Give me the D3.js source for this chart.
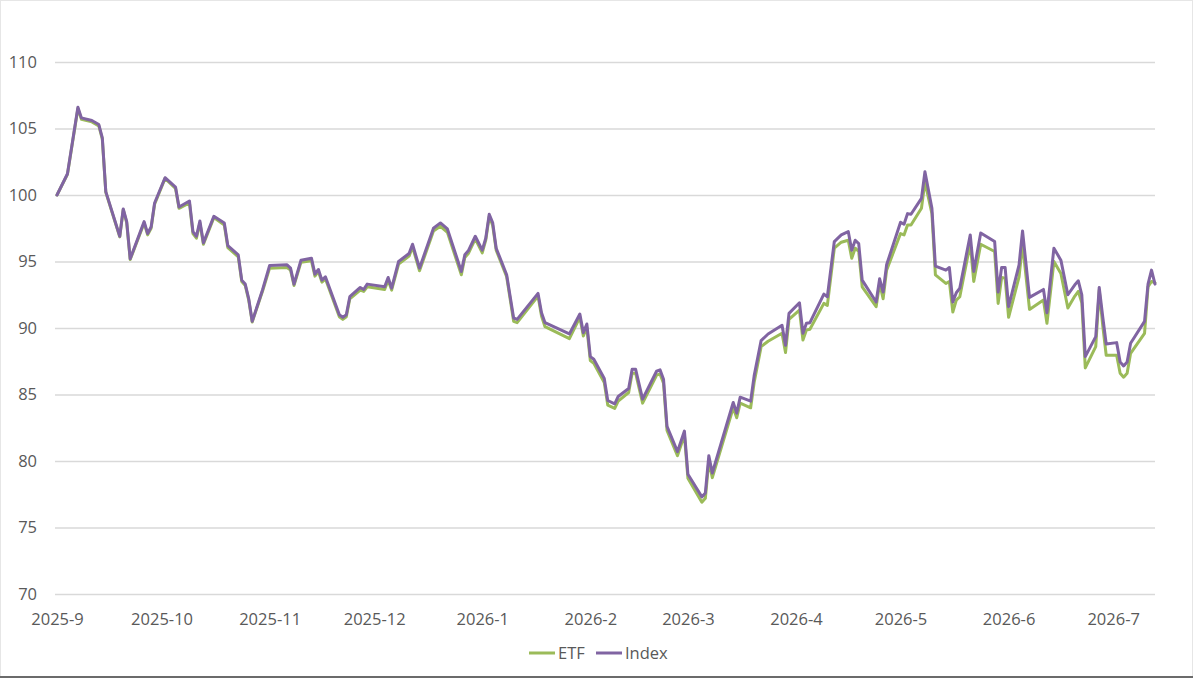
<!DOCTYPE html>
<html><head><meta charset="utf-8">
<script src="https://cdn.jsdelivr.net/npm/d3@7"></script>
<style>
html,body{margin:0;padding:0;background:#fff;}
svg{display:block;}
text{font-family:"Open Sans","Liberation Sans",sans-serif;fill:#595959;}
</style></head>
<body>
<svg id="c" width="1193" height="678"></svg>
<script>
const dates = ["2025-09-01","2025-09-04","2025-09-07","2025-09-08","2025-09-11","2025-09-13","2025-09-14","2025-09-15","2025-09-19","2025-09-20",
"2025-09-21","2025-09-22","2025-09-26","2025-09-27","2025-09-28","2025-09-29","2025-10-02","2025-10-05","2025-10-06","2025-10-09",
"2025-10-10","2025-10-11","2025-10-12","2025-10-13","2025-10-16","2025-10-19","2025-10-20","2025-10-23","2025-10-24","2025-10-25",
"2025-10-26","2025-10-27","2025-10-30","2025-11-01","2025-11-06","2025-11-07","2025-11-08","2025-11-10","2025-11-13","2025-11-14",
"2025-11-15","2025-11-16","2025-11-17","2025-11-21","2025-11-22","2025-11-23","2025-11-24","2025-11-27","2025-11-28","2025-11-29",
"2025-12-04","2025-12-05","2025-12-06","2025-12-08","2025-12-11","2025-12-12","2025-12-14","2025-12-18","2025-12-20","2025-12-22",
"2025-12-26","2025-12-27","2025-12-28","2025-12-30","2026-01-01","2026-01-02","2026-01-03","2026-01-04","2026-01-05","2026-01-08",
"2026-01-10","2026-01-11","2026-01-17","2026-01-18","2026-01-19","2026-01-26","2026-01-29","2026-01-30","2026-01-31","2026-02-01",
"2026-02-02","2026-02-05","2026-02-06","2026-02-08","2026-02-09","2026-02-12","2026-02-13","2026-02-14","2026-02-16","2026-02-20",
"2026-02-21","2026-02-22","2026-02-23","2026-02-26","2026-02-28","2026-03-01","2026-03-05","2026-03-06","2026-03-07","2026-03-08",
"2026-03-14","2026-03-15","2026-03-16","2026-03-19","2026-03-20","2026-03-22","2026-03-24","2026-03-28","2026-03-29","2026-03-30",
"2026-04-02","2026-04-03","2026-04-04","2026-04-05","2026-04-09","2026-04-10","2026-04-12","2026-04-14","2026-04-16","2026-04-17",
"2026-04-18","2026-04-19","2026-04-20","2026-04-24","2026-04-25","2026-04-26","2026-04-27","2026-05-01","2026-05-02","2026-05-03",
"2026-05-04","2026-05-07","2026-05-08","2026-05-10","2026-05-11","2026-05-14","2026-05-15","2026-05-16","2026-05-17","2026-05-18",
"2026-05-21","2026-05-22","2026-05-24","2026-05-28","2026-05-29","2026-05-30","2026-05-31","2026-06-01","2026-06-04","2026-06-05",
"2026-06-07","2026-06-11","2026-06-12","2026-06-14","2026-06-16","2026-06-18","2026-06-20","2026-06-21","2026-06-22","2026-06-23",
"2026-06-26","2026-06-27","2026-06-28","2026-06-29","2026-07-02","2026-07-03","2026-07-04","2026-07-05","2026-07-06","2026-07-10",
"2026-07-11","2026-07-12","2026-07-13"];

const indexValues = [100.0,101.6,106.6,105.8,105.6,105.3,104.3,100.25,96.9,98.95,
98.0,95.2,98.0,97.1,97.6,99.4,101.3,100.6,99.1,99.55,
97.25,96.9,98.05,96.4,98.4,97.9,96.2,95.5,93.6,93.3,
92.2,90.5,92.9,94.7,94.75,94.5,93.3,95.1,95.25,94.05,
94.4,93.6,93.85,91.0,90.8,91.0,92.35,93.05,92.9,93.3,
93.1,93.8,93.0,95.0,95.6,96.3,94.5,97.5,97.9,97.45,
94.25,95.5,95.8,96.9,95.85,96.75,98.55,97.9,96.0,94.0,
90.75,90.65,92.6,91.15,90.4,89.55,91.05,89.65,90.3,87.85,
87.65,86.2,84.55,84.3,84.85,85.45,86.9,86.9,84.65,86.75,
86.85,86.15,82.6,80.7,82.25,79.0,77.3,77.6,80.4,79.1,
84.4,83.6,84.8,84.5,86.4,89.05,89.55,90.2,88.7,91.1,
91.9,89.6,90.35,90.4,92.55,92.35,96.5,97.0,97.25,95.85,
96.6,96.35,93.6,91.95,93.7,92.7,94.75,97.95,97.8,98.6,
98.55,99.75,101.75,99.0,94.65,94.35,94.55,91.95,92.65,93.0,
97.0,94.25,97.15,96.5,92.7,94.55,94.55,91.6,94.75,97.3,
92.3,92.9,91.15,96.0,95.1,92.5,93.25,93.55,92.5,87.85,
89.35,93.05,90.85,88.8,88.9,87.45,87.15,87.45,88.85,90.5,
93.3,94.35,93.3];

const etfValues = [100.0,101.55,106.5,105.7,105.5,105.2,104.2,100.2,96.85,98.9,
97.9,95.15,97.9,97.0,97.5,99.3,101.25,100.5,99.0,99.4,
97.1,96.75,97.9,96.3,98.3,97.75,96.05,95.35,93.5,93.2,
92.1,90.45,92.8,94.5,94.55,94.35,93.2,94.95,95.05,93.9,
94.25,93.45,93.7,90.85,90.65,90.85,92.2,92.85,92.75,93.1,
92.9,93.6,92.85,94.8,95.4,96.1,94.3,97.3,97.65,97.2,
94.0,95.3,95.6,96.7,95.65,96.6,98.4,97.7,95.85,93.85,
90.5,90.4,92.4,90.9,90.1,89.2,90.8,89.4,90.05,87.55,
87.35,85.9,84.2,83.95,84.5,85.15,86.6,86.6,84.35,86.45,
86.55,85.85,82.3,80.4,81.95,78.7,76.9,77.2,80.0,78.75,
84.0,83.25,84.35,84.0,85.9,88.6,89.0,89.6,88.15,90.65,
91.35,89.1,89.85,89.9,91.85,91.7,96.0,96.45,96.6,95.25,
96.0,95.75,93.1,91.6,93.35,92.2,94.35,97.1,97.0,97.75,
97.75,99.0,101.0,98.6,94.0,93.35,93.5,91.2,92.1,92.35,
96.35,93.5,96.3,95.75,91.85,93.8,93.75,90.8,93.85,96.35,
91.4,92.1,90.35,95.0,94.1,91.5,92.4,92.75,91.9,87.0,
88.6,92.85,90.2,87.95,87.95,86.6,86.3,86.6,88.1,89.6,
93.1,93.5,93.4];

const yTicks = [70,75,80,85,90,95,100,105,110];
const monthTicks = ["2025-09-01","2025-10-01","2025-11-01","2025-12-01","2026-01-01","2026-02-01","2026-03-01","2026-04-01","2026-05-01","2026-06-01","2026-07-01"];
const seriesNames = ["ETF","Index"];
const seriesColors = ["#9BBB59","#8064A2"];

const parse = d3.timeParse("%Y-%m-%d");
const svg = d3.select("#c");

// frame
svg.append("rect").attr("x",0.5).attr("y",0.5).attr("width",1192).attr("height",677)
  .attr("fill","none").attr("stroke","#e6e6e6");
svg.append("line").attr("x1",0).attr("x2",1193).attr("y1",677).attr("y2",677)
  .attr("stroke","#6b6b6b").attr("stroke-width",2);

const x = d3.scaleTime().domain([parse(dates[0]), parse(dates[dates.length-1])]).range([57,1155]);
const y = d3.scaleLinear().domain([70,110]).range([594,62]);

// grid
const yAxis = d3.axisLeft(y).tickValues(yTicks).tickSize(-(1155-55)).tickPadding(18);
const gy = svg.append("g").attr("transform","translate(55,0)").call(yAxis);
gy.select(".domain").remove();
gy.selectAll(".tick line").attr("stroke","#d9d9d9").attr("stroke-width",1.3);
gy.selectAll(".tick text").attr("font-size","16.5px").attr("fill","#595959");

const xAxis = d3.axisBottom(x).tickValues(monthTicks.map(parse))
  .tickFormat(d3.timeFormat("%Y-%-m")).tickSize(0).tickPadding(19);
const gx = svg.append("g").attr("transform","translate(0,594)").call(xAxis);
gx.select(".domain").remove();
gx.selectAll(".tick text").attr("font-size","16.5px").attr("fill","#595959");

const line = d3.line().x(d=>x(d.date)).y(d=>y(d.v));
const mk = vals => dates.map((d,i)=>({date:parse(d), v:vals[i]}));
[etfValues, indexValues].forEach((vals,i)=>{
  svg.append("path").datum(mk(vals)).attr("d",line)
    .attr("fill","none").attr("stroke",seriesColors[i]).attr("stroke-width",3)
    .attr("stroke-linejoin","round").attr("stroke-linecap","round");
});

// legend
const lg = svg.append("g");
const legX = [529,596];
seriesNames.forEach((n,i)=>{
  lg.append("line").attr("x1",legX[i]).attr("x2",legX[i]+26).attr("y1",653).attr("y2",653)
    .attr("stroke",seriesColors[i]).attr("stroke-width",3);
  lg.append("text").attr("x",legX[i]+29).attr("y",653).attr("dy","0.35em")
    .attr("font-size","16.5px").text(n);
});
</script>
</body></html>
